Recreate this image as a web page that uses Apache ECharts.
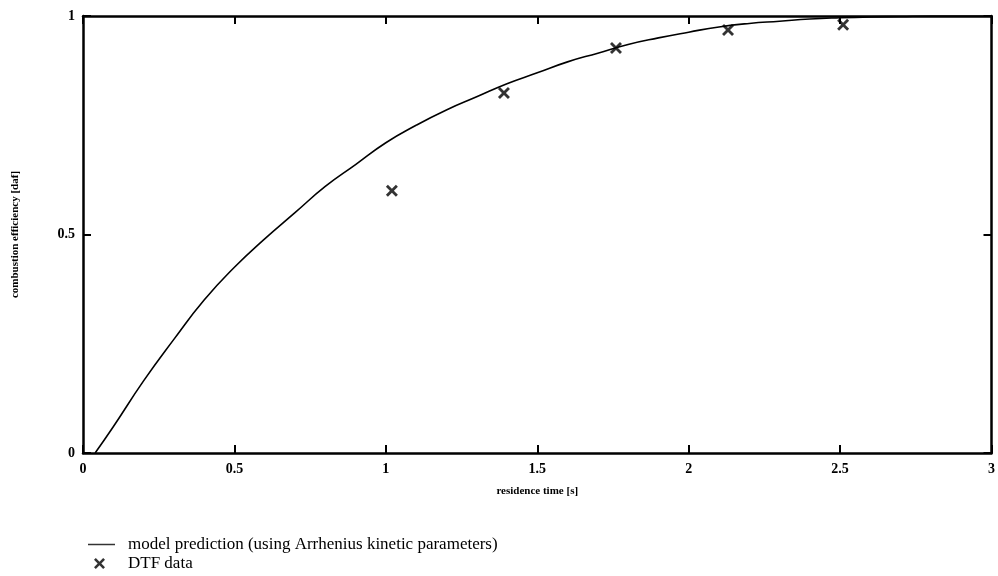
<!DOCTYPE html>
<html>
<head>
<meta charset="utf-8">
<script src="https://cdn.jsdelivr.net/npm/echarts@6/dist/echarts.min.js"></script>
<style>
  html, body { margin: 0; padding: 0; background: #fff; }
  #chart { width: 998px; height: 576px; }
</style>
</head>
<body>
<div id="chart"></div>
<script>
// Model prediction curve (residence time [s] -> combustion efficiency [daf])
const modelTime = [0.04, 0.1, 0.2, 0.3, 0.4, 0.5, 0.6, 0.7, 0.8, 0.9, 1.0, 1.1, 1.2, 1.3, 1.4, 1.5,
  1.6, 1.7, 1.8, 1.9, 2.0, 2.1, 2.2, 2.3, 2.4, 2.5, 2.6, 2.7, 2.8, 2.9, 3.0];
const modelEff = [0.0, 0.06, 0.165, 0.26, 0.35, 0.425, 0.49, 0.55, 0.61, 0.66, 0.71, 0.75, 0.785, 0.815, 0.845, 0.87,
  0.895, 0.915, 0.935, 0.95, 0.963, 0.975, 0.983, 0.988, 0.993, 0.996, 0.998, 0.999, 1.0, 1.0, 1.0];

// Drop tube furnace measurements
const dtfTime = [1.02, 1.39, 1.76, 2.13, 2.51];
const dtfEff = [0.60, 0.824, 0.927, 0.968, 0.98];

const xTicks = [0, 0.5, 1, 1.5, 2, 2.5, 3];
const yTicks = [0, 0.5, 1];

const modelName = 'model prediction (using Arrhenius kinetic parameters)';
const dtfName = 'DTF data';

const serif = '"Liberation Serif", "DejaVu Serif", serif';
const crossPath = 'path://M0,2 L2,0 L6,4 L10,0 L12,2 L8,6 L12,10 L10,12 L6,8 L2,12 L0,10 L4,6 Z';

const chart = echarts.init(document.getElementById('chart'), null, { renderer: 'canvas' });

const axisLine = { show: true, onZero: false, lineStyle: { color: '#000', width: 2.5 } };
const axisTick = { show: true, inside: true, length: 8, lineStyle: { color: '#000', width: 2 } };

chart.setOption({
  backgroundColor: '#fff',
  animation: false,
  grid: { left: 83, right: 5, top: 16, bottom: 123, containLabel: false },
  legend: [
    {
      data: [{ name: modelName, icon: 'rect' }],
      left: 83, top: 531,
      itemWidth: 27, itemHeight: 1.5,
      itemStyle: { color: '#333' },
      textStyle: { fontFamily: serif, fontSize: 17, color: '#000', padding: [0, 0, 0, 8] }
    },
    {
      data: [{ name: dtfName, icon: crossPath }],
      left: 89, top: 550,
      itemWidth: 11, itemHeight: 11,
      textStyle: { fontFamily: serif, fontSize: 17, color: '#000', padding: [0, 0, 0, 18] }
    }
  ],
  xAxis: [
    {
      type: 'value', min: 0, max: 3, interval: 0.5,
      name: 'residence time [s]', nameLocation: 'middle', nameGap: 33,
      nameTextStyle: { fontFamily: serif, fontSize: 11, fontWeight: 'bold', color: '#000' },
      axisLine, axisTick,
      axisLabel: {
        margin: 9, color: '#000', fontFamily: serif, fontSize: 14, fontWeight: 'bold',
        formatter: v => xTicks.includes(v) ? String(v) : ''
      },
      splitLine: { show: false }
    },
    {
      type: 'value', min: 0, max: 3, interval: 0.5, position: 'top',
      axisLine, axisTick, axisLabel: { show: false }, splitLine: { show: false }
    }
  ],
  yAxis: [
    {
      type: 'value', min: 0, max: 1, interval: 0.5,
      name: 'combustion efficiency [daf]', nameLocation: 'middle', nameGap: 62,
      nameTextStyle: { fontFamily: serif, fontSize: 11, fontWeight: 'bold', color: '#000' },
      axisLine, axisTick,
      axisLabel: {
        margin: 8, color: '#000', fontFamily: serif, fontSize: 14, fontWeight: 'bold',
        formatter: v => yTicks.includes(v) ? String(v) : ''
      },
      splitLine: { show: false }
    },
    {
      type: 'value', min: 0, max: 1, interval: 0.5, position: 'right',
      axisLine, axisTick, axisLabel: { show: false }, splitLine: { show: false }
    }
  ],
  series: [
    {
      name: modelName,
      type: 'line',
      smooth: true,
      symbol: 'none',
      lineStyle: { color: '#000', width: 1.6 },
      itemStyle: { color: '#000' },
      data: modelTime.map((t, i) => [t, modelEff[i]]),
      z: 2
    },
    {
      name: dtfName,
      type: 'scatter',
      symbol: crossPath,
      symbolSize: 12,
      itemStyle: { color: '#000' },
      data: dtfTime.map((t, i) => [t, dtfEff[i]]),
      z: 3
    }
  ]
});
</script>
</body>
</html>
